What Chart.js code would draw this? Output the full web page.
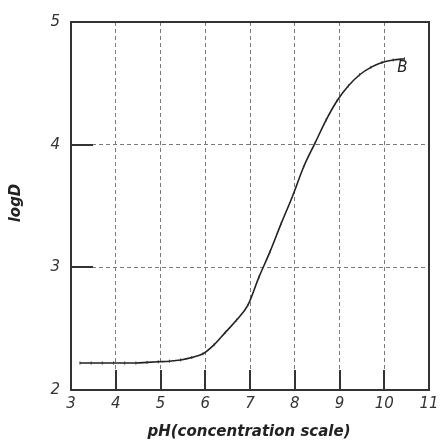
<!DOCTYPE html>
<html>
<head>
<meta charset="utf-8">
<script src="https://cdn.jsdelivr.net/npm/chart.js@4.4.1/dist/chart.umd.min.js"></script>
<style>
  body { margin: 0; background: #fff; }
  canvas { display: block; }
</style>
</head>
<body>
<canvas id="logd-chart" width="440" height="441"></canvas>
<script>
// logD vs pH curve
var phValues = [3.2, 3.45, 3.7, 3.95, 4.2, 4.45, 4.7, 4.95, 5.2, 5.45, 5.7, 5.95,
    6.2, 6.45, 6.7, 6.95, 7.2, 7.45, 7.7, 7.95, 8.2, 8.45, 8.7, 8.95,
    9.2, 9.45, 9.7, 9.95, 10.2, 10.45];
var logDValues = [2.22, 2.22, 2.22, 2.22, 2.22, 2.22, 2.225, 2.23, 2.235, 2.245, 2.265, 2.295,
    2.37, 2.47, 2.57, 2.69, 2.92, 3.13, 3.36, 3.58, 3.82, 4.01, 4.20, 4.36,
    4.48, 4.57, 4.63, 4.67, 4.69, 4.70];
var xTicks = [3, 4, 5, 6, 7, 8, 9, 10, 11];
var yTicks = [2, 3, 4, 5];
var curveName = 'B';

var fontName = '"DejaVu Sans", sans-serif';
var tickFont = { family: fontName, size: 15, style: 'italic' };

// box, inner tick marks, axis titles and curve label
var framePlugin = {
    id: 'frame',
    afterDraw: function (chart) {
        var ctx = chart.ctx;
        var a = chart.chartArea;
        var xs = chart.scales.x, ys = chart.scales.y;
        ctx.save();
        ctx.strokeStyle = '#333';
        ctx.lineWidth = 2;
        xTicks.forEach(function (v) {
            if (v == xs.min || v == xs.max) return;
            var px = Math.round(xs.getPixelForValue(v));
            ctx.beginPath();
            ctx.moveTo(px, a.bottom);
            ctx.lineTo(px, a.bottom - 20);
            ctx.stroke();
        });
        yTicks.forEach(function (v) {
            if (v == ys.min || v == ys.max) return;
            var py = Math.round(ys.getPixelForValue(v));
            ctx.beginPath();
            ctx.moveTo(a.left, py);
            ctx.lineTo(a.left + 22, py);
            ctx.stroke();
        });
        ctx.strokeRect(a.left, a.top, a.right - a.left, a.bottom - a.top);

        ctx.fillStyle = '#222';
        ctx.font = 'italic bold 15px ' + fontName;
        ctx.textAlign = 'center';
        ctx.textBaseline = 'middle';
        ctx.fillText('pH(concentration scale)', 249, 432);
        ctx.save();
        ctx.translate(16, 203);
        ctx.rotate(-Math.PI / 2);
        ctx.fillText('logD', 0, 0);
        ctx.restore();

        ctx.font = 'italic 15px ' + fontName;
        var last = phValues.length - 1;
        ctx.fillText(curveName, xs.getPixelForValue(phValues[last]) - 2,
            ys.getPixelForValue(logDValues[last]) + 9);
        ctx.restore();
    }
};

var ctx = document.getElementById('logd-chart').getContext('2d');
var myChart = new Chart(ctx, {
    type: 'scatter',
    data: {
        datasets: [
            {
                label: curveName,
                data: phValues.map(function (p, i) { return { x: p, y: logDValues[i] }; }),
                showLine: true,
                borderColor: '#222',
                borderWidth: 1.6,
                cubicInterpolationMode: 'monotone',
                pointStyle: 'line',
                rotation: 90,
                pointRadius: 1.5,
                pointBorderWidth: 1,
                pointBorderColor: '#333',
                fill: false
            }
        ]
    },
    options: {
        responsive: false,
        animation: false,
        layout: { padding: { top: 22, right: 0, left: 0, bottom: 0 } },
        plugins: { legend: { display: false }, tooltip: { enabled: false } },
        scales: {
            x: {
                type: 'linear',
                min: 3,
                max: 11,
                afterFit: function (scale) {
                    scale.height = 51;
                    scale.paddingRight = 11;
                },
                afterBuildTicks: function (scale) {
                    scale.ticks = xTicks.map(function (v) { return { value: v }; });
                },
                ticks: { font: tickFont, color: '#333', padding: 5, maxRotation: 0 },
                grid: { color: '#7a7a7a', lineWidth: 1, drawTicks: false },
                border: { display: false, dash: [4, 3] }
            },
            y: {
                type: 'linear',
                min: 2,
                max: 5,
                afterFit: function (scale) { scale.width = 71; },
                afterBuildTicks: function (scale) {
                    scale.ticks = yTicks.map(function (v) { return { value: v }; });
                },
                ticks: { font: tickFont, color: '#333', padding: 11 },
                grid: { color: '#7a7a7a', lineWidth: 1, drawTicks: false },
                border: { display: false, dash: [4, 3] }
            }
        }
    },
    plugins: [framePlugin]
});
</script>
</body>
</html>
